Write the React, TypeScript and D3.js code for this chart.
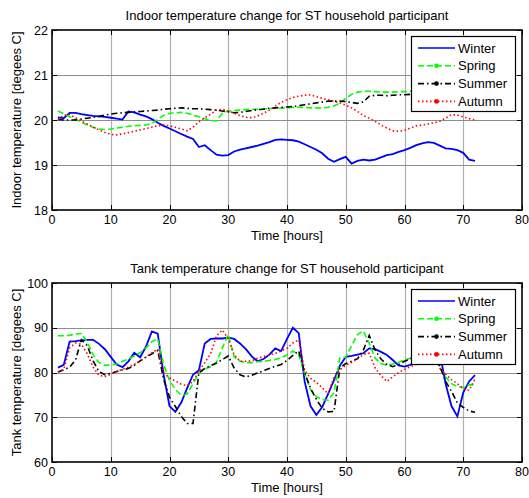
import React, { useEffect, useRef } from "react";
import * as d3 from "d3";

// time axis: one reading per hour
const hours = d3.range(1, 73);
const xTicks = [0, 10, 20, 30, 40, 50, 60, 70, 80];
const indoorTicks = [18, 19, 20, 21, 22];
const tankTicks = [60, 70, 80, 90, 100];
const seasons = ["Winter", "Spring", "Summer", "Autumn"];

const indoorWinter = [
  20.06, 20.04, 20.16, 20.16, 20.13, 20.11, 20.09, 20.08, 20.07, 20.05, 20.03, 20.01,
  20.19, 20.17, 20.12, 20.08, 20.02, 19.94, 19.87, 19.81, 19.75, 19.69, 19.63, 19.58,
  19.4, 19.44, 19.33, 19.23, 19.21, 19.22, 19.3, 19.34, 19.37, 19.4, 19.43, 19.47,
  19.51, 19.56, 19.57, 19.56, 19.55, 19.52, 19.46, 19.4, 19.34, 19.26, 19.14, 19.07,
  19.13, 19.18, 19.03, 19.09, 19.12, 19.1, 19.12, 19.17, 19.22, 19.24, 19.29, 19.33,
  19.38, 19.44, 19.48, 19.51, 19.49, 19.43, 19.37, 19.36, 19.33, 19.27, 19.12, 19.09,
];
const indoorSpring = [
  20.2, 20.14, 20.07, 20.01, 19.95, 19.89, 19.84, 19.8, 19.79, 19.8, 19.82, 19.84,
  19.86, 19.87, 19.88, 19.89, 19.92, 20.02, 20.1, 20.15, 20.16, 20.17, 20.15, 20.11,
  20.07, 20.03, 19.99, 19.98, 20.15, 20.2, 20.21, 20.22, 20.23, 20.24, 20.24, 20.25,
  20.25, 20.26, 20.26, 20.27, 20.28, 20.28, 20.28, 20.27, 20.27, 20.27, 20.28, 20.31,
  20.38, 20.48, 20.57, 20.62, 20.64, 20.64, 20.63, 20.62, 20.62, 20.62, 20.63, 20.63,
  20.64, 20.64, 20.64, 20.65, 20.65, 20.65, 20.64, 20.64, 20.65, 20.65, 20.64, 20.64,
];
const indoorSummer = [
  20.01, 20.0, 20.0, 20.0, 20.02, 20.04, 20.06, 20.08, 20.11, 20.13, 20.15, 20.16,
  20.17, 20.18, 20.19, 20.2, 20.21, 20.22, 20.24, 20.25, 20.26, 20.27, 20.26, 20.25,
  20.25, 20.24, 20.23, 20.22, 20.2, 20.18, 20.16, 20.17, 20.19, 20.21, 20.23, 20.24,
  20.26, 20.27, 20.28, 20.29, 20.3, 20.32, 20.34, 20.36, 20.38, 20.4, 20.42, 20.42,
  20.42, 20.41, 20.39, 20.37, 20.4, 20.53, 20.55, 20.55, 20.54, 20.55, 20.56, 20.56,
  20.57, 20.57, 20.58, 20.58, 20.58, 20.58, 20.59, 20.59, 20.59, 20.58, 20.58, 20.58,
];
const indoorAutumn = [
  20.01, 20.1, 20.12, 20.05, 19.98, 19.91, 19.84, 19.78, 19.72, 19.68, 19.67, 19.69,
  19.72, 19.75, 19.78, 19.81, 19.84, 19.87, 19.89, 19.87, 19.84, 19.8, 19.76, 19.84,
  19.96, 20.05, 20.13, 20.22, 20.24, 20.2, 20.15, 20.1, 20.06, 20.05, 20.09, 20.15,
  20.22, 20.31, 20.39, 20.45, 20.5, 20.53, 20.55, 20.56, 20.52, 20.48, 20.45, 20.42,
  20.38, 20.33, 20.27, 20.19, 20.1, 20.04, 19.97, 19.89, 19.82, 19.76, 19.75, 19.77,
  19.82, 19.87, 19.89, 19.91, 19.94, 19.97, 20.04, 20.12, 20.11, 20.07, 20.03, 20.0,
];

const tankWinter = [
  81.1, 81.7, 86.9, 87.0, 87.2, 87.3, 87.3, 86.4, 85.2, 83.5, 81.8, 81.2,
  82.5, 84.4, 83.4, 85.8, 89.2, 88.7, 79.5, 72.5, 71.2, 73.3, 76.5, 79.5,
  80.5, 86.5, 87.5, 87.6, 87.6, 87.8, 87.5, 86.5, 85.2, 83.6, 82.5, 83.0,
  84.0, 85.4, 84.8, 87.5, 90.0, 88.8, 78.0, 72.5, 70.5, 72.3, 75.2, 78.3,
  81.5, 83.5, 83.7, 84.0, 84.3, 85.4, 85.2, 84.6, 83.9, 82.8, 81.6, 81.3,
  81.7, 82.5, 84.5, 86.5, 89.0, 84.5, 77.5, 72.5, 70.2, 75.5, 78.0, 79.4,
];
const tankSpring = [
  88.2, 88.2, 88.3, 88.6, 88.7, 86.8, 84.0, 82.2, 81.6, 81.7, 81.9, 82.5,
  83.0, 83.7, 84.4, 85.5, 86.9, 87.5, 81.8, 78.2, 76.2, 74.9, 75.2, 77.5,
  79.8, 80.8, 81.3, 82.3, 85.5, 88.5, 83.5, 82.5, 82.2, 82.2, 82.4, 82.5,
  82.7, 82.9, 83.3, 83.9, 84.8, 84.0, 79.8, 76.2, 74.6, 73.9, 73.8, 75.5,
  83.3, 83.4, 86.0, 88.5, 89.3, 86.5, 83.2, 82.0, 81.6, 81.9, 82.3, 82.8,
  83.2, 83.6, 84.2, 85.0, 85.8, 81.0, 79.0, 77.5, 76.9, 76.6, 77.3, 77.2,
];
const tankSummer = [
  80.1, 80.6, 81.2, 82.8, 87.3, 86.0, 82.6, 80.2, 79.5, 79.8, 80.2, 80.6,
  80.9, 81.6, 82.6, 83.4, 84.2, 84.9, 78.5, 74.5, 72.4, 70.2, 68.6, 68.6,
  80.0, 80.9, 81.5, 82.1, 82.9, 83.7, 81.0, 79.5, 79.0, 79.4, 79.9, 80.4,
  80.9, 81.4, 81.8, 82.7, 83.8, 84.8, 80.0, 76.5, 74.0, 72.0, 71.2, 71.3,
  81.0, 82.0, 82.5, 83.1, 85.0, 88.3, 85.0, 83.0, 81.8, 81.3, 81.8, 82.5,
  83.0, 83.5, 84.0, 84.5, 85.0, 81.5, 78.0, 75.8, 73.2, 72.2, 71.4, 71.1,
];
const tankAutumn = [
  80.1, 80.7, 85.5, 86.6, 86.3, 84.2, 81.2, 79.4, 79.1, 79.6, 80.2, 80.7,
  81.2, 81.8, 82.6, 83.5, 84.4, 85.2, 79.9, 78.8, 78.1, 77.4, 77.0, 78.0,
  80.3, 82.2, 84.2, 88.2, 89.5, 87.5, 84.0, 82.5, 82.5, 82.6, 83.2, 83.6,
  83.9, 84.3, 84.8, 85.4, 86.6, 87.3, 80.5, 78.7, 77.8, 76.6, 75.2, 79.0,
  80.6, 81.6, 82.3, 83.0, 84.0, 84.3, 81.0, 79.3, 78.0, 79.0, 80.0, 80.7,
  81.3, 81.8, 82.4, 83.0, 84.0, 81.0, 79.6, 78.4, 77.5, 76.4, 76.0, 78.6,
];

const lineStyles = [
  { color: "#0000ff", dash: null, dot: false },
  { color: "#00ff00", dash: "6,3", dot: true },
  { color: "#000000", dash: "6,3,1.5,3", dot: true },
  { color: "#ff0000", dash: "1.5,2.5", dot: true },
];

const W = 529;
const H = 498;
const font = "'Liberation Sans', Arial, sans-serif";

function drawPanel(svg, opts) {
  const left = 52;
  const right = 522;
  const top = opts.top;
  const bottom = opts.bottom;

  const x = d3.scaleLinear().domain([0, 80]).range([left, right]);
  const y = d3.scaleLinear().domain(d3.extent(opts.yTicks)).range([bottom, top]);

  const g = svg.append("g");

  // grid
  g.selectAll("line.vgrid")
    .data(xTicks.slice(1, -1))
    .enter()
    .append("line")
    .attr("x1", (d) => Math.round(x(d)) + 0.5)
    .attr("x2", (d) => Math.round(x(d)) + 0.5)
    .attr("y1", top)
    .attr("y2", bottom)
    .attr("stroke", "#b0b0b0")
    .attr("stroke-width", 1.2);

  g.selectAll("line.hgrid")
    .data(opts.yTicks.slice(1, -1))
    .enter()
    .append("line")
    .attr("x1", left)
    .attr("x2", right)
    .attr("y1", (d) => Math.round(y(d)) + 0.5)
    .attr("y2", (d) => Math.round(y(d)) + 0.5)
    .attr("stroke", "#8c8c8c")
    .attr("stroke-width", 1);

  // inward tick marks on all four sides
  xTicks.forEach((t) => {
    const px = Math.round(x(t)) + 0.5;
    g.append("line").attr("x1", px).attr("x2", px).attr("y1", bottom).attr("y2", bottom - 5).attr("stroke", "#000");
    g.append("line").attr("x1", px).attr("x2", px).attr("y1", top).attr("y2", top + 5).attr("stroke", "#000");
  });
  opts.yTicks.forEach((t) => {
    const py = Math.round(y(t)) + 0.5;
    g.append("line").attr("x1", left).attr("x2", left + 5).attr("y1", py).attr("y2", py).attr("stroke", "#000");
    g.append("line").attr("x1", right).attr("x2", right - 5).attr("y1", py).attr("y2", py).attr("stroke", "#000");
  });

  // series
  const line = d3
    .line()
    .x((d, i) => x(hours[i]))
    .y((d) => y(d));

  opts.series.forEach((values, i) => {
    const st = lineStyles[i];
    g.append("path")
      .attr("d", line(values))
      .attr("fill", "none")
      .attr("stroke", st.color)
      .attr("stroke-width", i === 0 ? 1.8 : 1.6)
      .attr("stroke-dasharray", st.dash);
  });

  // box
  g.append("rect")
    .attr("x", left)
    .attr("y", top)
    .attr("width", right - left)
    .attr("height", bottom - top)
    .attr("fill", "none")
    .attr("stroke", "#000")
    .attr("stroke-width", 1.6);

  // tick labels
  g.selectAll("text.xt")
    .data(xTicks)
    .enter()
    .append("text")
    .attr("x", (d) => x(d))
    .attr("y", bottom + 14)
    .attr("text-anchor", "middle")
    .attr("font-size", 12.5)
    .attr("font-family", font)
    .text((d) => d);

  g.selectAll("text.yt")
    .data(opts.yTicks)
    .enter()
    .append("text")
    .attr("x", left - 4)
    .attr("y", (d) => y(d) + 4.5)
    .attr("text-anchor", "end")
    .attr("font-size", 12.5)
    .attr("font-family", font)
    .text((d) => d);

  // titles
  g.append("text")
    .attr("x", (left + right) / 2)
    .attr("y", top - 10)
    .attr("text-anchor", "middle")
    .attr("font-size", 13)
    .attr("font-family", font)
    .text(opts.title);

  g.append("text")
    .attr("x", (left + right) / 2)
    .attr("y", bottom + 30)
    .attr("text-anchor", "middle")
    .attr("font-size", 13)
    .attr("font-family", font)
    .text("Time [hours]");

  g.append("text")
    .attr("transform", "translate(21," + (top + bottom) / 2 + ") rotate(-90)")
    .attr("text-anchor", "middle")
    .attr("font-size", 13)
    .attr("font-family", font)
    .text(opts.yLabel);

  // legend
  const lx = 411;
  const ly = top + 6;
  const lg = g.append("g");
  lg.append("rect")
    .attr("x", lx + 0.5)
    .attr("y", ly + 0.5)
    .attr("width", 104)
    .attr("height", 75)
    .attr("fill", "#fff")
    .attr("stroke", "#000")
    .attr("stroke-width", 1.2);

  seasons.forEach((name, i) => {
    const st = lineStyles[i];
    const cy = ly + 12 + i * 17.8;
    lg.append("line")
      .attr("x1", lx + 7)
      .attr("x2", lx + 44)
      .attr("y1", cy)
      .attr("y2", cy)
      .attr("stroke", st.color)
      .attr("stroke-width", 1.6)
      .attr("stroke-dasharray", st.dash);
    if (st.dot) {
      lg.append("circle")
        .attr("cx", lx + 25.5)
        .attr("cy", cy)
        .attr("r", 2.3)
        .attr("fill", st.color);
    }
    lg.append("text")
      .attr("x", lx + 47)
      .attr("y", cy + 4.5)
      .attr("font-size", 13)
      .attr("font-family", font)
      .text(name);
  });
}

export default function App() {
  const ref = useRef(null);

  useEffect(() => {
    const svg = d3.select(ref.current);
    svg.selectAll("*").remove();

    drawPanel(svg, {
      top: 30,
      bottom: 210,
      yTicks: indoorTicks,
      series: [indoorWinter, indoorSpring, indoorSummer, indoorAutumn],
      title: "Indoor temperature change for ST household participant",
      yLabel: "Indoor temperature [degees C]",
    });

    drawPanel(svg, {
      top: 283,
      bottom: 462,
      yTicks: tankTicks,
      series: [tankWinter, tankSpring, tankSummer, tankAutumn],
      title: "Tank temperature change for ST household participant",
      yLabel: "Tank temperature [degees C]",
    });
  }, []);

  return (
    <svg
      ref={ref}
      width={W}
      height={H}
      style={{ position: "absolute", left: 0, top: 0, background: "#fff" }}
    />
  );
}
